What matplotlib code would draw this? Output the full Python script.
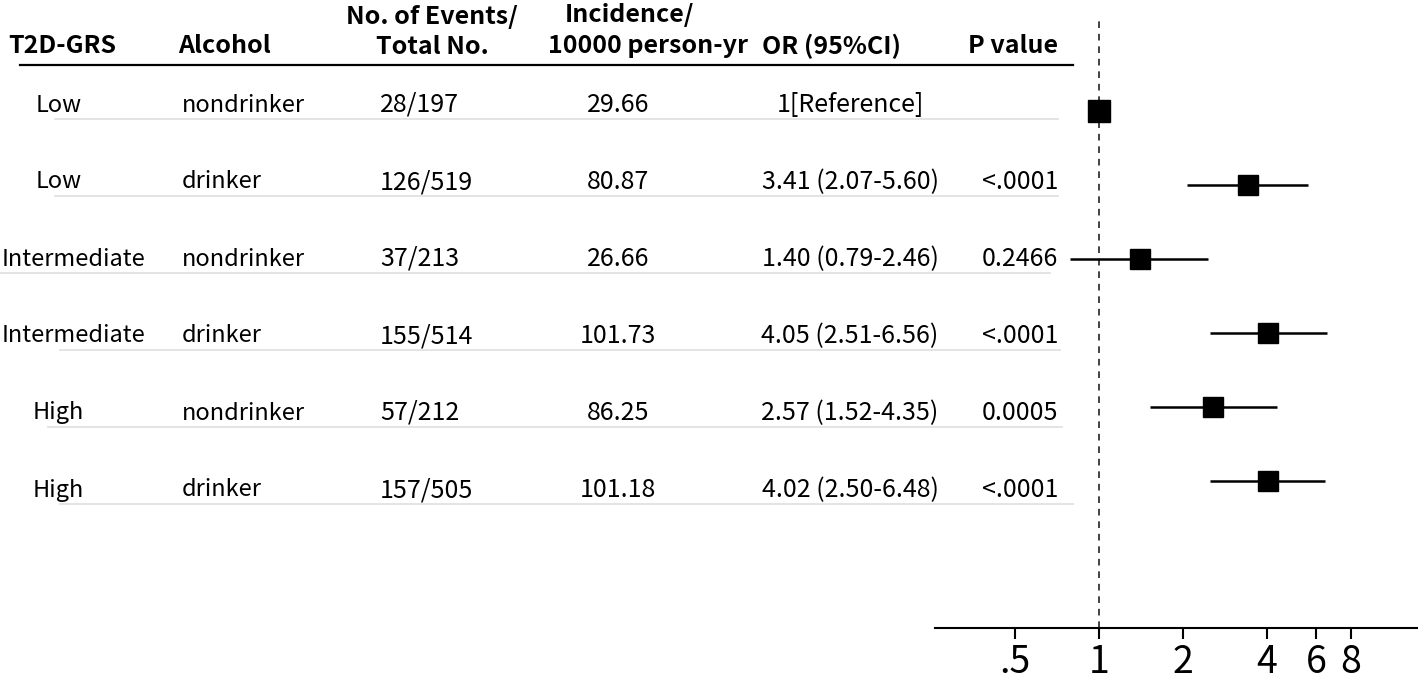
import matplotlib
matplotlib.use('Agg')
import matplotlib.pyplot as plt
import numpy as np

plt.rcParams['font.family'] = ['Noto Sans CJK SC', 'DejaVu Sans']

# data
grs = ['Low', 'Low', 'Intermediate', 'Intermediate', 'High', 'High']
alcohol = ['nondrinker', 'drinker', 'nondrinker', 'drinker', 'nondrinker', 'drinker']
events = ['28/197', '126/519', '37/213', '155/514', '57/212', '157/505']
incidence = ['29.66', '80.87', '26.66', '101.73', '86.25', '101.18']
or_text = ['1[Reference]', '3.41 (2.07-5.60)', '1.40 (0.79-2.46)', '4.05 (2.51-6.56)',
           '2.57 (1.52-4.35)', '4.02 (2.50-6.48)']
p_text = ['', '<.0001', '0.2466', '<.0001', '0.0005', '<.0001']
or_est = [1.00, 3.41, 1.40, 4.05, 2.57, 4.02]
or_lo = [np.nan, 2.07, 0.79, 2.51, 1.52, 2.50]
or_hi = [np.nan, 5.60, 2.46, 6.56, 4.35, 6.48]
ticks = [0.5, 1, 2, 4, 6, 8]
tick_labels = ['.5', '1', '2', '4', '6', '8']

W, H = 1418, 680
fig = plt.figure(figsize=(W / 100, H / 100), dpi=100)

# table part, in pixel coords
tab = fig.add_axes([0, 0, 1, 1])
tab.set_xlim(0, W)
tab.set_ylim(H, 0)
tab.axis('off')

fs = 17     # words
fsn = 18    # numbers
hdr = dict(fontsize=18, fontweight='bold', va='center')
tab.text(8, 46, 'T2D-GRS', ha='left', **hdr)
tab.text(178, 46, 'Alcohol', ha='left', **hdr)
tab.text(432, 17, 'No. of Events/', ha='center', **hdr)
tab.text(432, 47, 'Total No.', ha='center', **hdr)
tab.text(629, 15, 'Incidence/', ha='center', **hdr)
tab.text(648, 46, '10000 person-yr', ha='center', **hdr)
tab.text(831, 46, 'OR (95%CI)', ha='center', **hdr)
tab.text(1013, 46, 'P value', ha='center', **hdr)
tab.plot([20, 1073], [65, 65], color='black', lw=1.6)

grs_x = {'Low': 36, 'Intermediate': 2, 'High': 33}
sep_x = [(55, 1058), (55, 1058), (0, 1050), (60, 1060), (48, 1062), (60, 1073)]
for i in range(len(grs)):
    y = 105 + 77 * i
    tab.text(grs_x[grs[i]], y, grs[i], ha='left', va='center', fontsize=fs)
    tab.text(182, y, alcohol[i], ha='left', va='center', fontsize=fs)
    tab.text(380, y, events[i], ha='left', va='center', fontsize=fsn)
    tab.text(618, y, incidence[i], ha='center', va='center', fontsize=fsn)
    tab.text(850, y, or_text[i], ha='center', va='center', fontsize=fsn)
    tab.text(1058, y, p_text[i], ha='right', va='center', fontsize=fsn)
    tab.plot(sep_x[i], [y + 14, y + 14], color='#e2e2e2', lw=1.3)

# forest part
ax = fig.add_axes([935 / W, 52 / H, 483 / W, 611 / H])
ax.patch.set_alpha(0)
ax.set_xscale('log', base=2)
ax.set_xlim(0.259, 13.9)
ax.set_ylim(628, 17)
ax.axvline(1, color='#222222', lw=1.2, ls=(0, (4, 3.5)), zorder=1)

ys = 111 + 74 * np.arange(len(or_est))
ax.hlines(ys, or_lo, or_hi, color='black', lw=1.8, zorder=2)
sizes = [15.5] + [14] * (len(or_est) - 1)
for x, y, s in zip(or_est, ys, sizes):
    ax.plot(x, y, 's', color='black', markersize=s, zorder=3)

for side in ['top', 'right', 'left']:
    ax.spines[side].set_visible(False)
ax.spines['bottom'].set_linewidth(1.5)
ax.set_yticks([])
ax.set_xticks(ticks)
ax.set_xticklabels(tick_labels)
ax.xaxis.set_minor_locator(matplotlib.ticker.NullLocator())
ax.tick_params(axis='x', length=8, width=1.5, labelsize=27, pad=3)

fig.savefig('out.png', dpi=100)
